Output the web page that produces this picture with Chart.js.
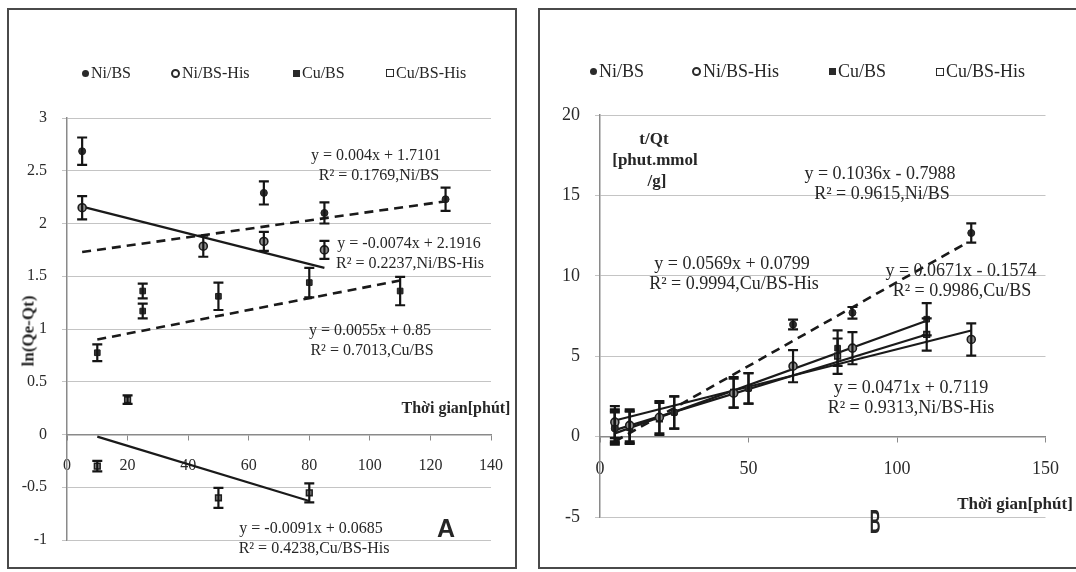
<!DOCTYPE html>
<html>
<head>
<meta charset="utf-8">
<script src="https://cdn.jsdelivr.net/npm/chart.js@4/dist/chart.umd.min.js"></script>
<style>
  html,body{margin:0;padding:0;background:#fff;}
  body{width:1076px;height:572px;overflow:hidden;position:relative;font-family:"Liberation Serif","Times New Roman",serif;color:#262626;}
  .frame{position:absolute;border:2px solid #4a4a4a;box-sizing:border-box;}
  canvas{position:absolute;top:0;}
  .t{position:absolute;white-space:nowrap;line-height:1;}
  .c{transform:translate(-50%,-50%);text-align:center;}
  .lg{position:absolute;white-space:nowrap;line-height:1;transform:translateY(-50%);}
  .mk{display:inline-block;vertical-align:middle;margin-right:2px;position:relative;top:-1px;}
  .m1{width:7px;height:7px;border-radius:50%;background:#2a2a2a;}
  .m2{width:5px;height:5px;border-radius:50%;border:2px solid #2a2a2a;background:#fff;}
  .m3{width:7px;height:7px;background:#2a2a2a;}
  .m4{width:6px;height:6px;border:1.3px solid #2a2a2a;background:#fff;}
  .b{font-weight:bold;}
</style>
</head>
<body>
<div class="frame" style="left:7px;top:8px;width:510px;height:561px;"></div>
<div class="frame" style="left:538px;top:8px;width:560px;height:561px;"></div>
<canvas id="cA" width="520" height="572" style="left:0;width:520px;height:572px;"></canvas>
<canvas id="cB" width="540" height="572" style="left:536px;width:540px;height:572px;"></canvas>

<!-- Panel A texts -->
<div class="lg" style="left:82px;top:73px;font-size:16px;"><span class="mk m1"></span>Ni/BS</div>
<div class="lg" style="left:171px;top:73px;font-size:16px;"><span class="mk m2"></span>Ni/BS-His</div>
<div class="lg" style="left:293px;top:73px;font-size:16px;"><span class="mk m3"></span>Cu/BS</div>
<div class="lg" style="left:386px;top:73px;font-size:16px;"><span class="mk m4"></span>Cu/BS-His</div>

<div class="t c b" style="left:28px;top:331px;font-size:17px;transform:translate(-50%,-50%) rotate(-90deg);">ln(Qe-Qt)</div>
<div class="t c b" style="left:456px;top:408px;font-size:16px;">Thời gian[phút]</div>
<div class="t c b" style="left:446px;top:528px;font-size:25px;font-family:'Liberation Sans',Arial,sans-serif;">A</div>

<div class="t c" style="left:376px;top:155px;font-size:16px;">y = 0.004x + 1.7101</div>
<div class="t c" style="left:379px;top:175px;font-size:16px;">R² = 0.1769,Ni/BS</div>
<div class="t c" style="left:409px;top:243px;font-size:16px;">y = -0.0074x + 2.1916</div>
<div class="t c" style="left:410px;top:263px;font-size:16px;">R² = 0.2237,Ni/BS-His</div>
<div class="t c" style="left:370px;top:330px;font-size:16px;">y = 0.0055x + 0.85</div>
<div class="t c" style="left:372px;top:350px;font-size:16px;">R² = 0.7013,Cu/BS</div>
<div class="t c" style="left:311px;top:528px;font-size:16px;">y = -0.0091x + 0.0685</div>
<div class="t c" style="left:314px;top:548px;font-size:16px;">R² = 0.4238,Cu/BS-His</div>

<!-- Panel B texts -->
<div class="lg" style="left:590px;top:71px;font-size:18px;"><span class="mk m1"></span>Ni/BS</div>
<div class="lg" style="left:692px;top:71px;font-size:18px;"><span class="mk m2"></span>Ni/BS-His</div>
<div class="lg" style="left:829px;top:71px;font-size:18px;"><span class="mk m3"></span>Cu/BS</div>
<div class="lg" style="left:936px;top:71px;font-size:18px;"><span class="mk m4"></span>Cu/BS-His</div>

<div class="t c b" style="left:654px;top:138px;font-size:17px;">t/Qt</div>
<div class="t c b" style="left:655px;top:159px;font-size:17px;">[phut.mmol</div>
<div class="t c b" style="left:657px;top:180px;font-size:17px;">/g]</div>
<div class="t c b" style="left:1015px;top:503px;font-size:17px;">Thời gian[phút]</div>
<div class="t c b" style="left:875px;top:521px;font-size:33px;font-family:'Liberation Sans',Arial,sans-serif;transform:translate(-50%,-50%) scaleX(0.45);">B</div>

<div class="t c" style="left:880px;top:173px;font-size:18px;">y = 0.1036x - 0.7988</div>
<div class="t c" style="left:882px;top:193px;font-size:18px;">R² = 0.9615,Ni/BS</div>
<div class="t c" style="left:732px;top:263px;font-size:18px;">y = 0.0569x + 0.0799</div>
<div class="t c" style="left:734px;top:283px;font-size:18px;">R² = 0.9994,Cu/BS-His</div>
<div class="t c" style="left:961px;top:270px;font-size:18px;">y = 0.0671x - 0.1574</div>
<div class="t c" style="left:962px;top:290px;font-size:18px;">R² = 0.9986,Cu/BS</div>
<div class="t c" style="left:911px;top:387px;font-size:18px;">y = 0.0471x + 0.7119</div>
<div class="t c" style="left:911px;top:407px;font-size:18px;">R² = 0.9313,Ni/BS-His</div>

<script>
// ---------- Panel A data: ln(Qe-Qt) vs time ----------
const aXAxis = [0, 140, 20];      // min, max, step
const aYAxis = [-1, 3, 0.5];

const aNiBS_x   = [5, 65, 85, 125];
const aNiBS_y   = [2.685, 2.29, 2.10, 2.23];
const aNiBS_e   = [0.13, 0.11, 0.10, 0.11];

const aNiBSHis_x = [5, 45, 65, 85];
const aNiBSHis_y = [2.15, 1.785, 1.83, 1.75];
const aNiBSHis_e = [0.11, 0.10, 0.09, 0.085];

const aCuBS_x   = [10, 25, 25, 50, 80, 110];
const aCuBS_y   = [0.775, 1.36, 1.17, 1.31, 1.44, 1.36];
const aCuBS_e   = [0.08, 0.07, 0.07, 0.13, 0.14, 0.135];

const aCuBSHis_x = [10, 20, 50, 80];
const aCuBSHis_y = [-0.30, 0.33, -0.60, -0.553];
const aCuBSHis_e = [0.05, 0.04, 0.095, 0.09];

// trend line end points
const aNiBS_tx = [5, 125],    aNiBS_ty = [1.73, 2.21];
const aNiBSHis_tx = [5, 85],  aNiBSHis_ty = [2.16, 1.58];
const aCuBS_tx = [10, 110],   aCuBS_ty = [0.90, 1.46];
const aCuBSHis_tx = [10, 80], aCuBSHis_ty = [-0.02, -0.63];

// ---------- Panel B data: t/Qt vs time ----------
const bXAxis = [0, 150, 50];
const bYAxis = [-5, 20, 5];

const bNiBS_x   = [5, 25, 50, 65, 85, 125];
const bNiBS_y   = [0.5, 1.5, 3.0, 6.97, 7.7, 12.66];
const bNiBS_e   = [1.0, 1.0, 0.95, 0.3, 0.36, 0.6];

const bNiBSHis_x = [5, 10, 20, 45, 65, 85, 125];
const bNiBSHis_y = [0.9, 0.7, 1.2, 2.7, 4.38, 5.5, 6.04];
const bNiBSHis_e = [1.0, 1.0, 1.0, 0.9, 1.0, 1.0, 1.0];

const bCuBS_x   = [5, 10, 25, 50, 80, 110];
const bCuBS_y   = [0.7, 0.55, 1.5, 3.0, 5.5, 7.3];
const bCuBS_e   = [1.0, 1.0, 1.0, 0.95, 1.1, 1.0];

const bCuBSHis_x = [5, 10, 20, 45, 80, 110];
const bCuBSHis_y = [0.6, 0.6, 1.1, 2.75, 5.0, 6.35];
const bCuBSHis_e = [1.0, 1.0, 1.0, 0.95, 1.1, 1.0];

const bNiBS_tx = [5, 123],    bNiBS_ty = [-0.3, 12.0];
const bNiBSHis_tx = [5, 125], bNiBSHis_ty = [1.0, 6.6];
const bCuBS_tx = [5, 110],    bCuBS_ty = [0.2, 7.2];
const bCuBSHis_tx = [5, 110], bCuBSHis_ty = [0.4, 6.35];

// ---------- helpers ----------
function pts(xs, ys){ return xs.map((x, i) => ({x: x, y: ys[i]})); }

const markerStyles = [
  {pointStyle:'circle', pointRadius:3.5, backgroundColor:'#2e2e2e', borderColor:'#1e1e1e', borderWidth:1},
  {pointStyle:'circle', pointRadius:4,   backgroundColor:'#8e8e8e', borderColor:'#1e1e1e', borderWidth:1.6},
  {pointStyle:'rect',   pointRadius:4,   backgroundColor:'#333', borderColor:'#1e1e1e', borderWidth:1},
  {pointStyle:'rect',   pointRadius:4,   backgroundColor:'#9a9a9a', borderColor:'#1e1e1e', borderWidth:1.6}
];

function seriesDS(label, xs, ys, es, k){
  return Object.assign({type:'scatter', label:label, data:pts(xs, ys), errorBars:es, showLine:false, order:1}, markerStyles[k]);
}
function trendDS(xs, ys, dashed){
  return {type:'line', label:'trend', data:pts(xs, ys), borderColor:'#1a1a1a',
          borderWidth: dashed ? 2.6 : 2.2, borderDash: dashed ? [9, 6] : [],
          pointRadius:0, fill:false, tension:0, order:2};
}

const errorBarPlugin = {
  id:'errorBarPlugin',
  afterDatasetsDraw(chart){
    const ctx = chart.ctx, ys = chart.scales.y;
    ctx.save();
    ctx.strokeStyle = '#151515';
    ctx.lineWidth = 2.2;
    chart.data.datasets.forEach((ds, i) => {
      if (!ds.errorBars) return;
      const meta = chart.getDatasetMeta(i);
      meta.data.forEach((el, j) => {
        const v = ds.data[j].y, e = ds.errorBars[j];
        const x = el.x, y1 = ys.getPixelForValue(v + e), y2 = ys.getPixelForValue(v - e);
        ctx.beginPath();
        ctx.moveTo(x, y1); ctx.lineTo(x, y2);
        ctx.moveTo(x - 5, y1); ctx.lineTo(x + 5, y1);
        ctx.moveTo(x - 5, y2); ctx.lineTo(x + 5, y2);
        ctx.stroke();
      });
    });
    ctx.restore();
  }
};

function fmt(v){ return String(Math.round(v * 100) / 100); }

function makeChart(id, datasets, xr, yr, pad, fontSize, xPad){
  const font = {family:"'Liberation Serif','Times New Roman',serif", size:fontSize};
  return new Chart(document.getElementById(id), {
    type:'scatter',
    data:{datasets:datasets},
    plugins:[errorBarPlugin],
    options:{
      responsive:false, animation:false, events:[],
      layout:{padding:pad},
      plugins:{legend:{display:false}, tooltip:{enabled:false}, title:{display:false}},
      scales:{
        x:{type:'linear', position:{y:0}, min:xr[0], max:xr[1],
           ticks:{stepSize:xr[2], color:'#2a2a2a', font:font, padding:xPad, maxRotation:0, callback:fmt},
           grid:{drawOnChartArea:false, drawTicks:true, tickLength:5, color:'#8a8a8a'},
           border:{display:true, color:'#8a8a8a', width:1.5}},
        y:{type:'linear', position:'left', min:yr[0], max:yr[1],
           ticks:{stepSize:yr[2], color:'#2a2a2a', font:font, padding:15, callback:fmt},
           grid:{color:'#c4c4c4', lineWidth:1, tickLength:5},
           border:{display:true, color:'#8a8a8a', width:1.5},
           afterFit:(s) => { s.width = 60; }}
      }
    }
  });
}

makeChart('cA', [
  seriesDS('Ni/BS', aNiBS_x, aNiBS_y, aNiBS_e, 0),
  seriesDS('Ni/BS-His', aNiBSHis_x, aNiBSHis_y, aNiBSHis_e, 1),
  seriesDS('Cu/BS', aCuBS_x, aCuBS_y, aCuBS_e, 2),
  seriesDS('Cu/BS-His', aCuBSHis_x, aCuBSHis_y, aCuBSHis_e, 3),
  trendDS(aNiBS_tx, aNiBS_ty, true),
  trendDS(aNiBSHis_tx, aNiBSHis_ty, false),
  trendDS(aCuBS_tx, aCuBS_ty, true),
  trendDS(aCuBSHis_tx, aCuBSHis_ty, false)
], aXAxis, aYAxis, {left:7, top:118, right:28, bottom:32}, 16, 17);

makeChart('cB', [
  seriesDS('Ni/BS', bNiBS_x, bNiBS_y, bNiBS_e, 0),
  seriesDS('Ni/BS-His', bNiBSHis_x, bNiBSHis_y, bNiBSHis_e, 1),
  seriesDS('Cu/BS', bCuBS_x, bCuBS_y, bCuBS_e, 2),
  seriesDS('Cu/BS-His', bCuBSHis_x, bCuBSHis_y, bCuBSHis_e, 3),
  trendDS(bNiBS_tx, bNiBS_ty, true),
  trendDS(bNiBSHis_tx, bNiBSHis_ty, false),
  trendDS(bCuBS_tx, bCuBS_ty, false),
  trendDS(bCuBSHis_tx, bCuBSHis_ty, false)
], bXAxis, bYAxis, {left:4, top:115, right:28, bottom:55}, 18, 17);
</script>
</body>
</html>
